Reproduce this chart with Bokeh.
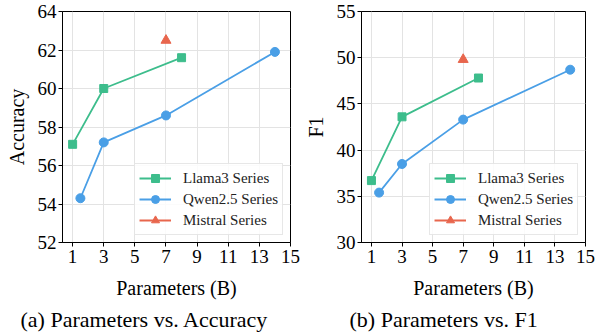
from bokeh.plotting import figure
from bokeh.layouts import row
from bokeh.models import Legend, LegendItem, Title, FixedTicker
from bokeh.embed import file_html
from bokeh.resources import INLINE

# Data
llama_x = [1, 3, 8]
llama_acc = [57.1, 60.0, 61.6]
llama_f1 = [36.7, 43.6, 47.8]
qwen_x = [1.5, 3, 7, 14]
qwen_acc = [54.3, 57.2, 58.6, 61.9]
qwen_f1 = [35.4, 38.5, 43.3, 48.7]
mistral_x = [7]
mistral_acc = [62.5]
mistral_f1 = [49.8]
x_ticks = [1, 3, 5, 7, 9, 11, 13, 15]
acc_ticks = [52, 54, 56, 58, 60, 62, 64]
f1_ticks = [30, 35, 40, 45, 50, 55]

GREEN = "#3dbd8c"
BLUE = "#4a9fe6"
RED = "#e8664d"
FONT = "'Liberation Serif', 'Times New Roman', serif"


def make(ydata, yticks, ylabel, caption, bl, br, w, cap_offset):
    (la, qa, ma) = ydata
    p = figure(width=w, height=334, output_backend="svg", toolbar_location=None,
               x_range=(0.35, 15), y_range=(yticks[0], yticks[-1]),
               min_border_left=bl, min_border_right=br, min_border_top=11,
               min_border_bottom=10)
    p.outline_line_color = "black"
    p.outline_line_width = 1
    for ax in (p.xaxis, p.yaxis):
        ax.major_label_text_font = FONT
        ax.major_label_text_font_size = "19px"
        ax.major_label_text_color = "black"
        ax.axis_label_text_font = FONT
        ax.axis_label_text_font_size = "20px"
        ax.axis_label_text_font_style = "normal"
        ax.axis_label_text_color = "black"
        ax.minor_tick_line_color = None
        ax.major_tick_out = 4
        ax.major_tick_in = 0
        ax.axis_line_color = "black"
        ax.major_tick_line_color = "black"
    p.xaxis.major_label_standoff = 3
    p.yaxis.major_label_standoff = 2
    p.xaxis.ticker = FixedTicker(ticks=x_ticks)
    p.yaxis.ticker = FixedTicker(ticks=yticks)
    p.xaxis.axis_label = "Parameters (B)"
    p.yaxis.axis_label = ylabel
    p.xaxis.axis_label_standoff = 11
    p.yaxis.axis_label_standoff = 7
    p.grid.grid_line_color = "#e3e3e3"
    p.grid.grid_line_width = 1

    l1 = p.line(llama_x, la, line_color=GREEN, line_width=1.8)
    m1 = p.scatter(llama_x, la, marker="square", size=8, color=GREEN)
    l2 = p.line(qwen_x, qa, line_color=BLUE, line_width=1.8)
    m2 = p.scatter(qwen_x, qa, marker="circle", size=9, color=BLUE)
    l3 = p.line(mistral_x, ma, line_color=RED, line_width=1.8)
    m3 = p.scatter(mistral_x, ma, marker="triangle", size=10, color=RED)

    legend = Legend(items=[
        LegendItem(label="Llama3 Series", renderers=[l1, m1]),
        LegendItem(label="Qwen2.5 Series", renderers=[l2, m2]),
        LegendItem(label="Mistral Series", renderers=[l3, m3]),
    ], location="bottom_right")
    legend.margin = 7
    legend.padding = 4
    legend.spacing = 1
    legend.glyph_width = 32
    legend.glyph_height = 20
    legend.label_height = 20
    legend.label_standoff = 12
    legend.label_text_font = FONT
    legend.label_text_font_size = "15px"
    legend.label_text_color = "#222222"
    legend.border_line_color = "#d0d0d0"
    legend.border_line_width = 1
    legend.background_fill_alpha = 0.85
    p.add_layout(legend)

    t = Title(text=caption, align="left", offset=cap_offset, text_font=FONT,
              text_font_size="22px", text_font_style="normal", text_color="black",
              standoff=6)
    p.add_layout(t, "below")
    return p


p1 = make((llama_acc, qwen_acc, mistral_acc), acc_ticks, "Accuracy",
          "(a) Parameters vs. Accuracy", 62, 11, 301, -42)
p2 = make((llama_f1, qwen_f1, mistral_f1), f1_ticks, "F1",
          "(b) Parameters vs. F1", 56, 17, 301, -12)

layout = row(p1, p2)
open("out.html", "w").write(file_html(layout, INLINE))
